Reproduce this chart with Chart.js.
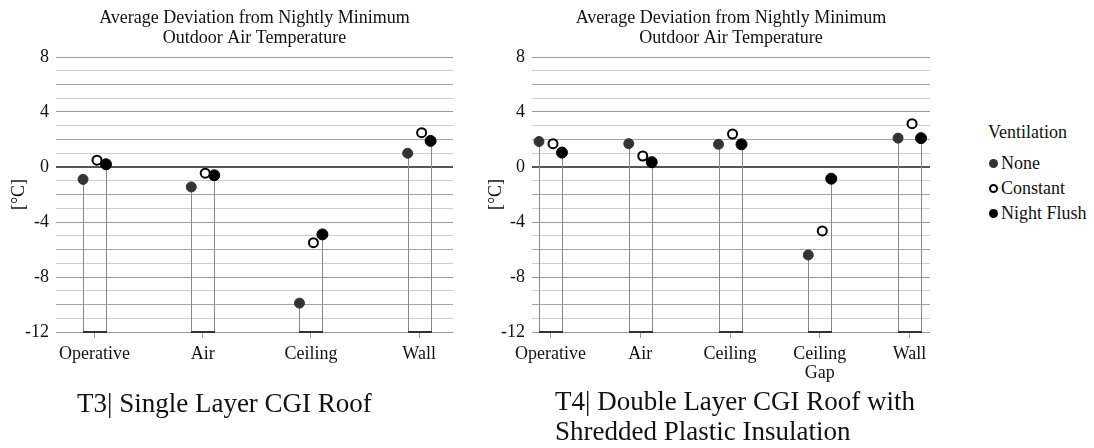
<!DOCTYPE html>
<html>
<head>
<meta charset="utf-8">
<script src="https://cdn.jsdelivr.net/npm/chart.js@4"></script>
<style>
body { margin: 0; background: #fff; width: 1094px; height: 448px; overflow: hidden; position: relative; font-family: "Liberation Serif", serif; color: #111; }
canvas { position: absolute; top: 0; }
#t3 { left: 0; }
#t4 { left: 470px; }
.caption { position: absolute; font-size: 27px; line-height: 30px; color: #111; white-space: nowrap; }
#legend { position: absolute; left: 988px; top: 122px; font-size: 18px; color: #111; }
#legend .head { line-height: 20px; height: 28.5px; }
#legend .row { display: flex; align-items: center; height: 25px; }
#legend .dot { width: 9px; height: 9px; border-radius: 50%; box-sizing: border-box; margin: 0 3px 0 1px; }
</style>
</head>
<body>
<canvas id="t3" width="470" height="390"></canvas>
<canvas id="t4" width="480" height="390"></canvas>
<div class="caption" style="left:77px; top:388px;">T3| Single Layer CGI Roof</div>
<div class="caption" style="left:555px; top:386px;">T4| Double Layer CGI Roof with<br>Shredded Plastic Insulation</div>
<div id="legend"></div>
<script>
const titleLines = ['Average Deviation from Nightly Minimum', 'Outdoor Air Temperature'];
const seriesNames = ['None', 'Constant', 'Night Flush'];
const yTickLabels = [8, 4, 0, -4, -8, -12];

// T3 single layer roof
const t3Categories = ['Operative', 'Air', 'Ceiling', 'Wall'];
const t3None = [-0.9, -1.45, -9.9, 1.0];
const t3Constant = [0.5, -0.45, -5.5, 2.5];
const t3NightFlush = [0.2, -0.6, -4.9, 1.9];

// T4 double layer roof + insulation
const t4Categories = ['Operative', 'Air', 'Ceiling', ['Ceiling', 'Gap'], 'Wall'];
const t4None = [1.85, 1.7, 1.65, -6.4, 2.1];
const t4Constant = [1.7, 0.8, 2.4, -4.65, 3.15];
const t4NightFlush = [1.05, 0.35, 1.65, -0.85, 2.1];

const seriesStyle = [
    { backgroundColor: '#333', borderColor: '#333', borderWidth: 1, pointRadius: 5 },
    { backgroundColor: '#fff', borderColor: '#000', borderWidth: 2, pointRadius: 4.5 },
    { backgroundColor: '#000', borderColor: '#000', borderWidth: 1, pointRadius: 5.5 }
];

Chart.defaults.font.family = '"Liberation Serif", serif';
Chart.defaults.color = '#111';

// vertical drops from None / Night Flush to the axis floor, joined at the bottom
const dropLines = {
    id: 'dropLines',
    beforeDatasetsDraw(chart) {
        const { ctx, scales: { y } } = chart;
        const base = y.getPixelForValue(y.min);
        const low = chart.getDatasetMeta(0).data;
        const high = chart.getDatasetMeta(2).data;
        ctx.save();
        low.forEach((p, i) => {
            const q = high[i];
            ctx.strokeStyle = '#888';
            ctx.lineWidth = 1;
            ctx.beginPath();
            ctx.moveTo(Math.round(p.x) + 0.5, p.y);
            ctx.lineTo(Math.round(p.x) + 0.5, base);
            ctx.moveTo(Math.round(q.x) + 0.5, q.y);
            ctx.lineTo(Math.round(q.x) + 0.5, base);
            ctx.stroke();
            ctx.strokeStyle = '#333';
            ctx.lineWidth = 2;
            ctx.beginPath();
            ctx.moveTo(Math.round(p.x), base);
            ctx.lineTo(Math.round(q.x) + 1, base);
            ctx.stroke();
        });
        ctx.restore();
    }
};

function gridColor(ctx) {
    const v = ctx.tick.value;
    if (v === 0) return '#555';
    if (v % 4 === 0) return '#999';
    if (v % 2 === 0) return '#a5a5a5';
    return '#cfcfcf';
}

function makeChart(id, categories, series, opt) {
    const datasets = series.map((vals, s) => ({
        label: seriesNames[s],
        data: vals.map((v, i) => ({ x: i + opt.dodge[s], y: v })),
        ...seriesStyle[s],
        pointHoverRadius: seriesStyle[s].pointRadius
    }));

    return new Chart(document.getElementById(id), {
        type: 'scatter',
        data: { datasets },
        plugins: [dropLines],
        options: {
            responsive: false,
            animation: false,
            layout: { padding: { left: 0, right: opt.padRight, top: 0, bottom: 0 } },
            plugins: {
                legend: { display: false },
                tooltip: { enabled: false },
                title: {
                    display: true,
                    fullSize: false,
                    text: titleLines,
                    color: '#111',
                    font: { size: 18, weight: 'normal', lineHeight: 1.1 },
                    padding: { top: 8.6, bottom: 8.8 }
                }
            },
            scales: {
                x: {
                    type: 'linear',
                    min: opt.xMin,
                    max: opt.xMax,
                    afterBuildTicks: (scale) => { scale.ticks = categories.map((c, i) => ({ value: i })); },
                    afterFit: (scale) => { scale.height = 58; },
                    ticks: {
                        autoSkip: false,
                        maxRotation: 0,
                        padding: 6,
                        font: { size: 18, lineHeight: 1.1 },
                        color: '#111',
                        callback: (v) => categories[v]
                    },
                    grid: { drawOnChartArea: false, drawTicks: true, tickLength: 6, color: '#999' },
                    border: { display: false }
                },
                y: {
                    min: -12,
                    max: 8,
                    afterFit: (scale) => { scale.width = opt.yWidth; },
                    ticks: {
                        stepSize: 1,
                        autoSkip: false,
                        padding: 7,
                        font: { size: 18 },
                        color: '#111',
                        callback: (v) => yTickLabels.includes(v) ? v : ''
                    },
                    grid: {
                        drawTicks: false,
                        color: gridColor,
                        lineWidth: (ctx) => ctx.tick.value === 0 ? 2 : 1
                    },
                    border: { display: false },
                    title: {
                        display: true,
                        text: '[°C]',
                        color: '#111',
                        font: { size: 18 },
                        padding: { top: opt.titlePad, bottom: 0 }
                    }
                }
            }
        }
    });
}

makeChart('t3', t3Categories, [t3None, t3Constant, t3NightFlush], {
    dodge: [-0.106, 0.023, 0.106], xMin: -0.356, xMax: 3.313, padRight: 17, yWidth: 56, titlePad: 8
});
makeChart('t4', t4Categories, [t4None, t4Constant, t4NightFlush], {
    dodge: [-0.128, 0.028, 0.128], xMin: -0.206, xMax: 4.228, padRight: 20, yWidth: 62, titlePad: 15
});

// legend
const legend = document.getElementById('legend');
legend.innerHTML = '<div class="head">Ventilation</div>';
seriesNames.forEach((name, s) => {
    const st = seriesStyle[s];
    const row = document.createElement('div');
    row.className = 'row';
    row.innerHTML = '<span class="dot" style="background:' + st.backgroundColor +
        ';border:' + (s === 1 ? '2px solid #000' : '0') + '"></span><span>' + name + '</span>';
    legend.appendChild(row);
});
</script>
</body>
</html>
